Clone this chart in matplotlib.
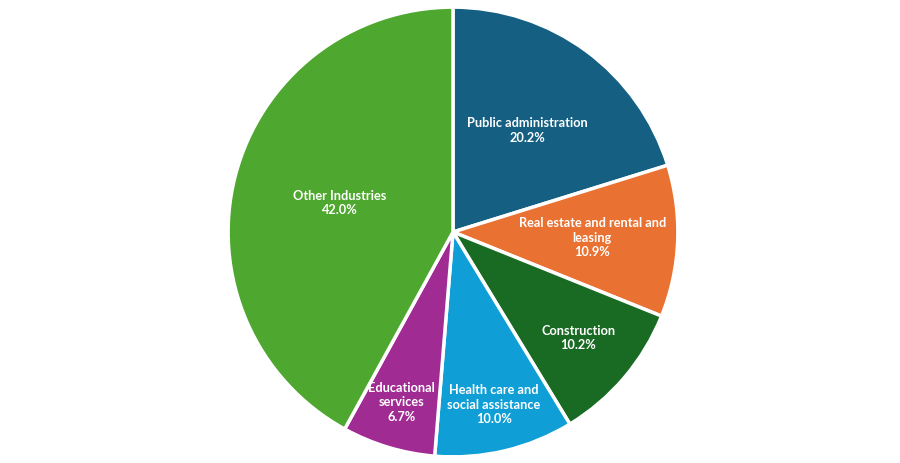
import numpy as np
import matplotlib.pyplot as plt

industries = ["Public administration", "Real estate and rental and\nleasing", "Construction",
              "Health care and\nsocial assistance", "Educational\nservices", "Other Industries"]
shares = [20.2, 10.9, 10.2, 10.0, 6.7, 42.0]
colors = ["#156082", "#E97132", "#196B24", "#0F9ED5", "#A02B93", "#4EA72E"]
# how far out (fraction of radius) each label sits
label_dist = [0.56, 0.62, 0.73, 0.79, 0.79, 0.52]

fig = plt.figure(figsize=(9, 4.63), dpi=100)
ax = fig.add_axes([(453 - 226) / 900, (463 - 232 - 226) / 463, 452 / 900, 452 / 463])

labels = [f"{n}\n{v:.1f}%" for n, v in zip(industries, shares)]
wedges, texts = ax.pie(shares, labels=labels, colors=colors, startangle=90, counterclock=False,
                       labeldistance=0.6,
                       wedgeprops=dict(edgecolor="white", linewidth=2.5),
                       textprops=dict(color="white", fontsize=9.2, fontweight="bold",
                                      family=["Lato", "DejaVu Sans"],
                                      ha="center", va="center", multialignment="center"))
for w, t, d in zip(wedges, texts, label_dist):
    ang = np.deg2rad((w.theta1 + w.theta2) / 2)
    t.set_position((d * np.cos(ang), d * np.sin(ang)))
    t.set_horizontalalignment("center")
    t.set_linespacing(1.25)
ax.set_aspect("equal")
ax.set_xlim(-1.005, 1.005)
ax.set_ylim(-1.005, 1.005)

plt.savefig("out.png", dpi=100)
